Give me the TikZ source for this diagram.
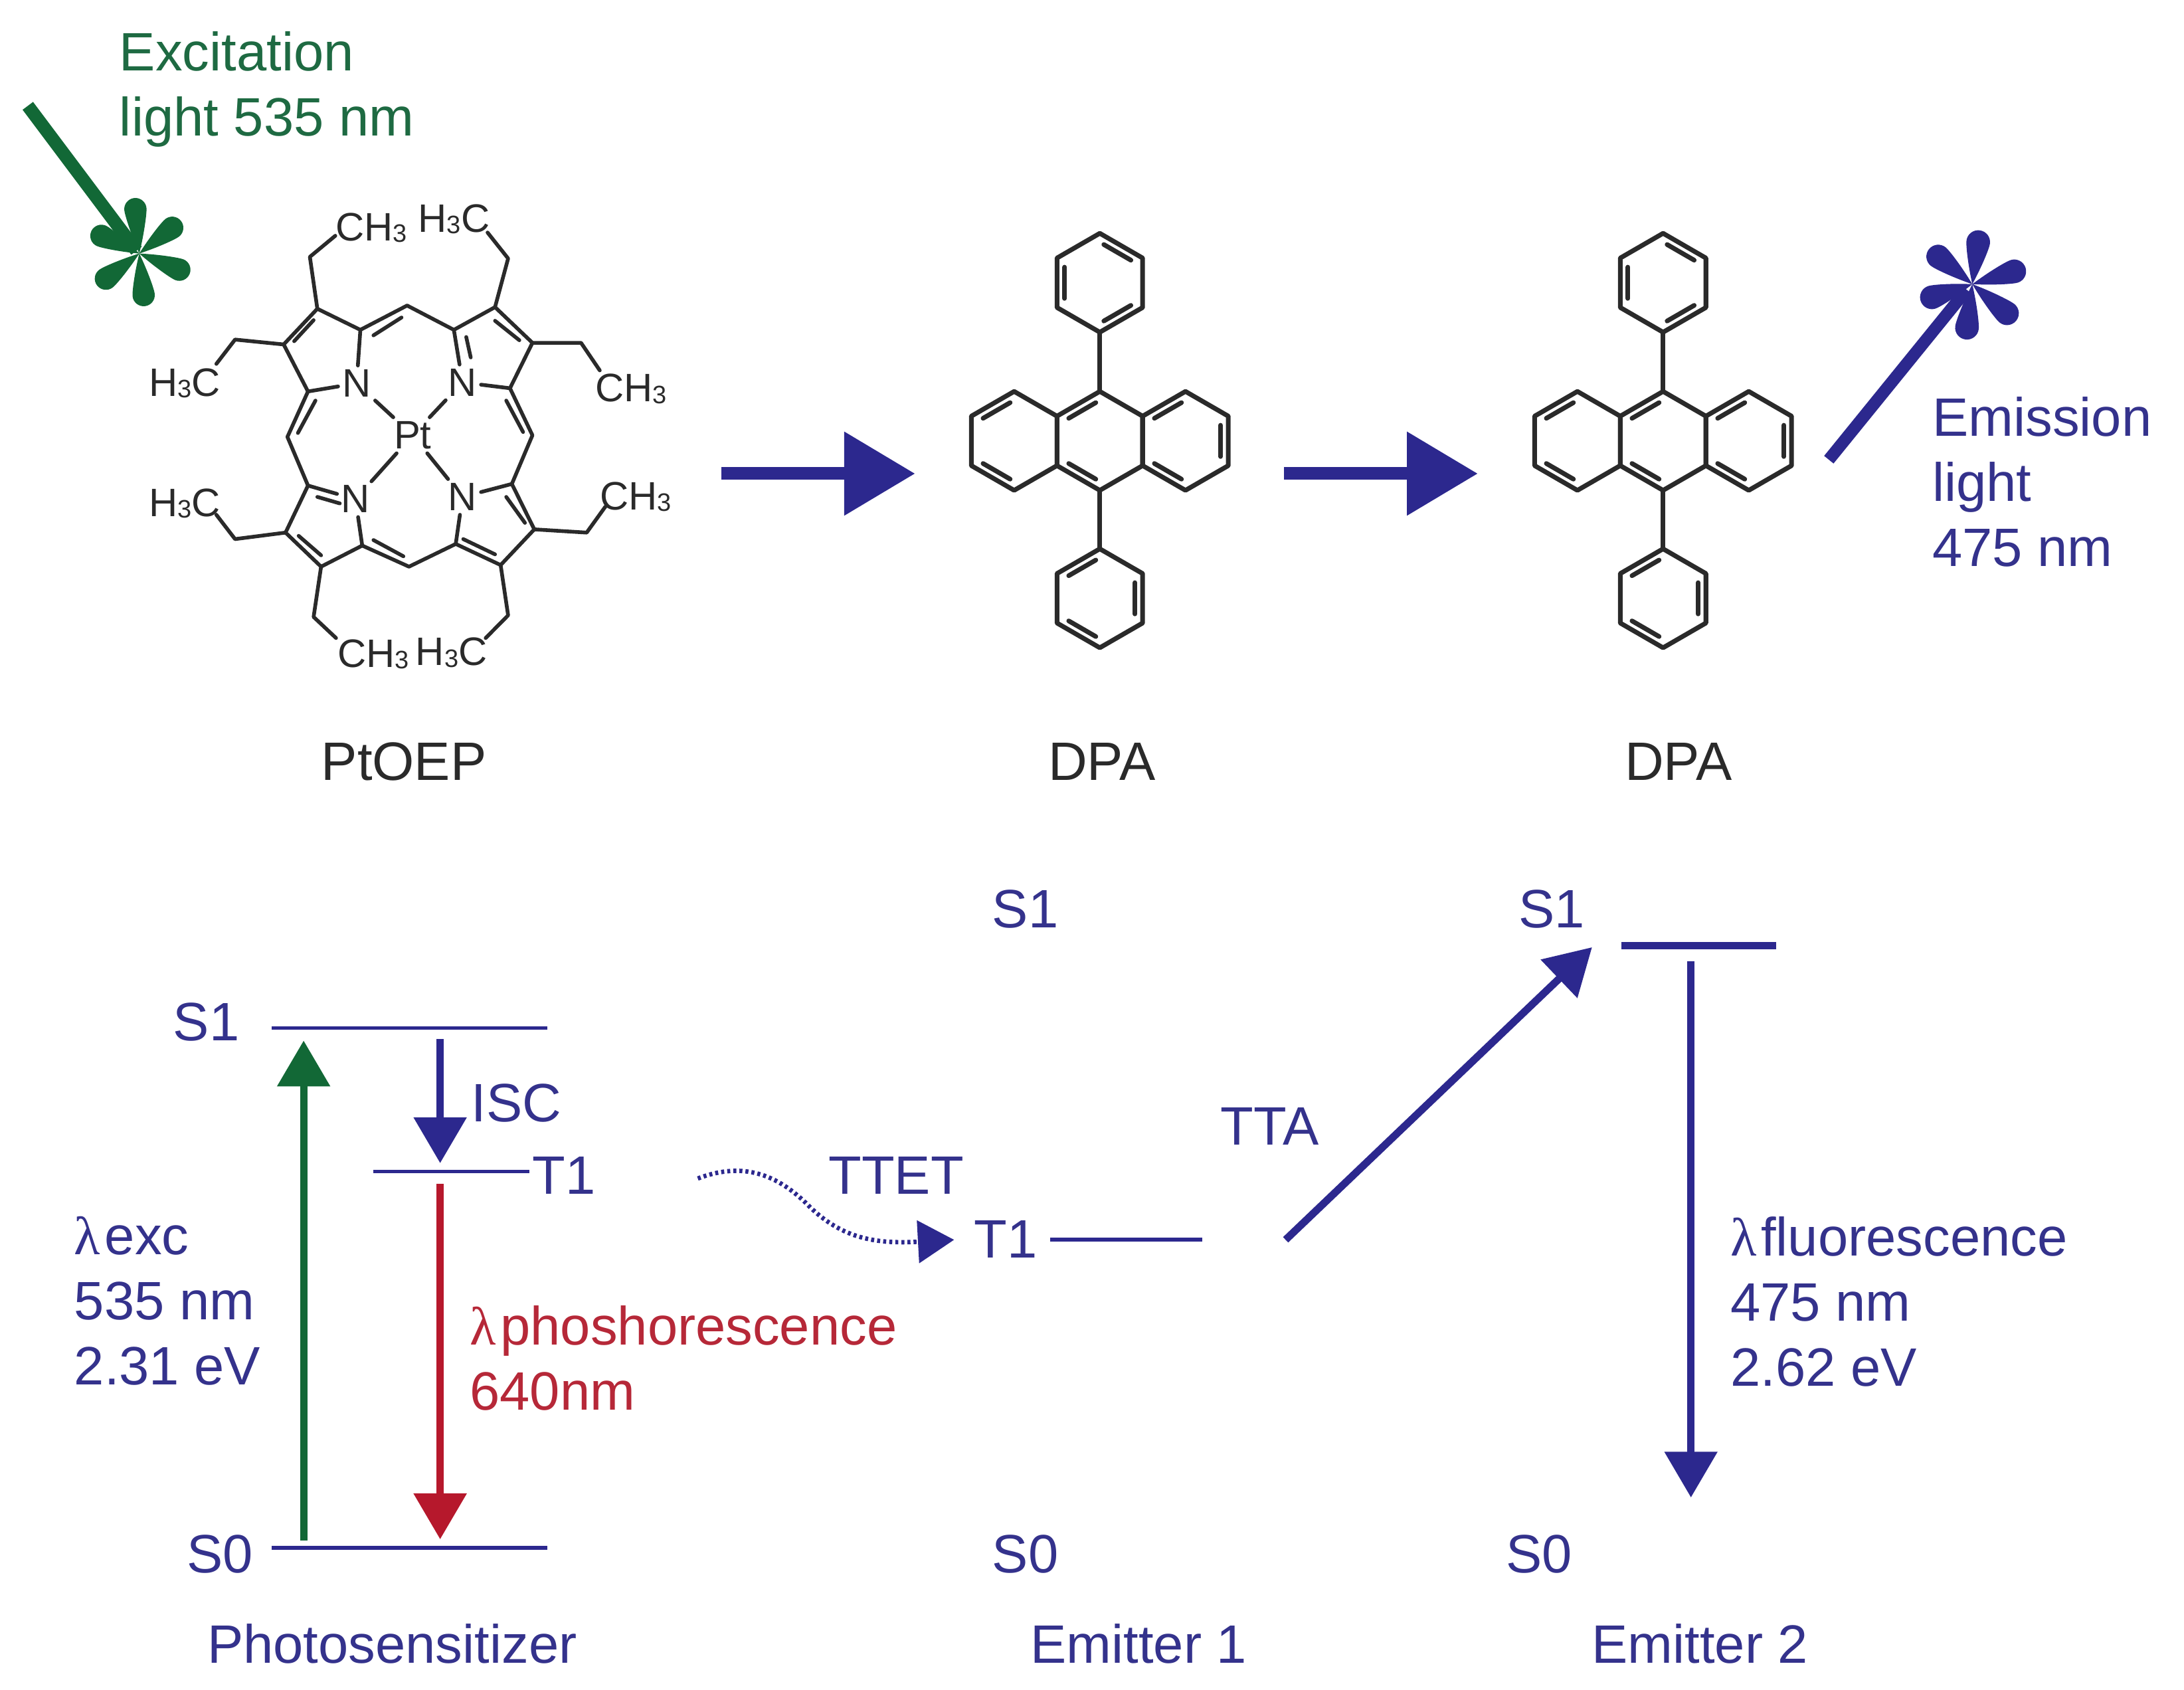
\documentclass[tikz,border=0pt]{standalone}
\usepackage{fontspec}
\setmainfont{Liberation Sans}
\newfontfamily\lamfont{Liberation Serif}
\usetikzlibrary{arrows.meta}
\definecolor{dblue}{RGB}{44,40,142}
\definecolor{tblue}{RGB}{52,50,140}
\definecolor{dgreen}{RGB}{18,104,54}
\definecolor{tgreen}{RGB}{30,106,66}
\definecolor{dred}{RGB}{182,24,44}
\definecolor{tred}{RGB}{182,40,56}
\definecolor{ink}{RGB}{42,42,42}
\newcommand{\lam}{{\lamfont λ}\kern0.08em}
\newcommand{\subthree}{\raisebox{-0.04em}{\fontsize{10.8}{10.8}\selectfont 3}}
% one petal of the star: tip length, bulb radius, direction
\newcommand{\petal}[3]{\fill[rotate=#3] (0,0) .. controls (0.35*#1,0.6*#2) and (#1-1.4*#2,#2) .. (#1-#2,#2) arc (90:-90:#2) .. controls (#1-1.4*#2,-#2) and (0.35*#1,-0.6*#2) .. (0,0) -- cycle;}
% hexagon: centre x, centre y, list of start angles (as seen) of edges with an inner line
\newcommand{\hexring}[3]{%
  \begin{scope}[shift={(#1,#2)}]
    \draw[dpabond] (30:35.5) -- (90:35.5) -- (150:35.5) -- (210:35.5) -- (270:35.5) -- (330:35.5) -- cycle;
    \foreach \a in {#3} {\draw[dpabond] (-\a-6:27.6) -- (-\a-54:27.6);}
  \end{scope}}
\newcommand{\dpamol}[1]{%
  \hexring{#1}{203}{30,150,270}
  \hexring{#1}{316.5}{90,210}
  \hexring{#1-61.5}{316.5}{90,210}
  \hexring{#1+61.5}{316.5}{90,330,210}
  \hexring{#1}{429.5}{90,330,210}
  \draw[dpabond] (#1,238.5) -- (#1,281);
  \draw[dpabond] (#1,352) -- (#1,394);}
\tikzset{
  bond/.style={draw=ink,line width=1.6pt,line join=round,line cap=round},
  dpabond/.style={draw=ink,line width=2pt,line join=round,line cap=round},
  atom/.style={text=ink,inner sep=1.6pt,font=\fontsize{17}{18}\selectfont},
  lab/.style={inner sep=0pt,anchor=base west,text=tblue,font=\fontsize{23.15}{27.9}\selectfont},
  mlab/.style={inner sep=0pt,anchor=north west,align=left,text=tblue,font=\fontsize{23.15}{27.9}\selectfont},
  name lab/.style={inner sep=0pt,anchor=base,text=ink,font=\fontsize{23.15}{27.9}\selectfont},
  level/.style={draw=dblue,line width=1.6pt},
  bigarrow/.style={draw=dblue,fill=dblue,line width=5.4pt,-{Triangle[length=30.4pt,width=34.6pt]}},
  midarrow/.style={line width=3.2pt,-{Triangle[length=19.6pt,width=22pt]}},
}
\begin{document}
\begin{tikzpicture}[x=0.02097cm,y=-0.02097cm]
\useasboundingbox (0,0) rectangle (1568,1213);
%% ---------- excitation
\node[mlab,text=tgreen] (exc) at (85.5,22.5) {Excitation\\light 535 nm};
\begin{scope}[shift={(100,182)},dgreen]
  \petal{40}{8}{95}\petal{38}{8}{38}\petal{39}{8}{-22}\petal{38}{8}{-84}\petal{38}{8}{-143}\petal{38}{8}{155}
\end{scope}
\coordinate (excs) at (20,76);
\coordinate (exce) at (98,180);
\draw[dgreen,line width=5.6pt] (excs) -- (exce);
%% ---------- emission
\node[mlab] (emi) at (1387,284.5) {Emission\\light\\475 nm};
\begin{scope}[shift={(1416,204)},dblue]
  \petal{39}{8.5}{82}\petal{40}{8.5}{17}\petal{41}{8.5}{-40}\petal{40}{8.5}{-97}\petal{39}{8.5}{198}\petal{40}{8.5}{141}
\end{scope}
\coordinate (emis) at (1313,330);
\coordinate (emie) at (1412,208);
\draw[dblue,line width=5.2pt] (emis) -- (emie);
%% ---------- PtOEP
\begin{scope}[shift={(85.5,132)},x=0.005633cm,y=-0.00488cm]
  \node[atom] (Pt) at (785,775) {Pt};
  \node[atom] (Na) at (635,615) {N};
  \node[atom] (Nb) at (918,612) {N};
  \node[atom] (Nc) at (632,972) {N};
  \node[atom] (Nd) at (918,965) {N};
  \coordinate (a1) at (645,450); \coordinate (a2) at (530,385); \coordinate (a3) at (440,495); \coordinate (a4) at (505,640);
  \coordinate (b1) at (895,450); \coordinate (b2) at (1005,380); \coordinate (b3) at (1105,490); \coordinate (b4) at (1045,630);
  \coordinate (c1) at (505,930); \coordinate (c2) at (445,1075); \coordinate (c3) at (540,1180); \coordinate (c4) at (650,1115);
  \coordinate (d1) at (1050,925); \coordinate (d2) at (1110,1065); \coordinate (d3) at (1020,1175); \coordinate (d4) at (900,1110);
  \coordinate (mt) at (770,375); \coordinate (ml) at (450,780); \coordinate (mr) at (1105,775); \coordinate (mb) at (775,1180);
  % rings and bridges
  \draw[bond] (Na) -- (a1) -- (a2) -- (a3) -- (a4) -- (Na);
  \draw[bond] (Nb) -- (b1) -- (b2) -- (b3) -- (b4) -- (Nb);
  \draw[bond] (Nc) -- (c1) -- (c2) -- (c3) -- (c4) -- (Nc);
  \draw[bond] (Nd) -- (d1) -- (d2) -- (d3) -- (d4) -- (Nd);
  \draw[bond] (a1) -- (mt) -- (b1);
  \draw[bond] (a4) -- (ml) -- (c1);
  \draw[bond] (b4) -- (mr) -- (d1);
  \draw[bond] (c4) -- (mb) -- (d4);
  % to the metal
  \draw[bond] (Na) -- (Pt); \draw[bond] (Nb) -- (Pt); \draw[bond] (Nc) -- (Pt); \draw[bond] (Nd) -- (Pt);
  % inner lines of double bonds
  \draw[bond] (520,420) -- (468,485);
  \draw[bond] (680,467) -- (755,412);
  \draw[bond] (928,472) -- (940,535);
  \draw[bond] (1005,422) -- (1070,482);
  \draw[bond] (1035,668) -- (1080,765);
  \draw[bond] (525,668) -- (478,768);
  \draw[bond] (530,965) -- (590,985);
  \draw[bond] (480,1085) -- (540,1145);
  \draw[bond] (680,1098) -- (760,1148);
  \draw[bond] (1035,965) -- (1085,1045);
  \draw[bond] (920,1095) -- (1005,1142);
  % ethyl groups
  \node[atom,anchor=west,inner sep=0pt] (e1) at (578,135) {CH\subthree};
  \node[atom,anchor=east,inner sep=0pt] (e2) at (992,108) {H\subthree C};
  \node[atom,anchor=east,inner sep=0pt] (e3) at (272,615) {H\subthree C};
  \node[atom,anchor=west,inner sep=0pt] (e4) at (1272,632) {CH\subthree};
  \node[atom,anchor=east,inner sep=0pt] (e5) at (272,985) {H\subthree C};
  \node[atom,anchor=west,inner sep=0pt] (e6) at (1285,965) {CH\subthree};
  \node[atom,anchor=west,inner sep=0pt] (e7) at (583,1450) {CH\subthree};
  \node[atom,anchor=east,inner sep=0pt] (e8) at (985,1445) {H\subthree C};
  \coordinate (t1) at (510,225); \coordinate (t2) at (1040,230); \coordinate (t3) at (310,480); \coordinate (t4) at (1235,490);
  \coordinate (t5) at (310,1095); \coordinate (t6) at (1250,1075); \coordinate (t7) at (520,1335); \coordinate (t8) at (1040,1330);
  \coordinate (u1) at (578,160); \coordinate (u2) at (985,150); \coordinate (u3) at (260,555); \coordinate (u4) at (1285,575);
  \coordinate (u5) at (260,1020); \coordinate (u6) at (1300,995); \coordinate (u7) at (580,1400); \coordinate (u8) at (980,1400);
  \draw[bond] (a2) -- (t1) -- (u1);
  \draw[bond] (b2) -- (t2) -- (u2);
  \draw[bond] (a3) -- (t3) -- (u3);
  \draw[bond] (b3) -- (t4) -- (u4);
  \draw[bond] (c2) -- (t5) -- (u5);
  \draw[bond] (d2) -- (t6) -- (u6);
  \draw[bond] (c3) -- (t7) -- (u7);
  \draw[bond] (d3) -- (t8) -- (u8);
\end{scope}
%% ---------- DPA
\dpamol{789.6}
\dpamol{1194}
\node[name lab] (nPt) at (290,560) {PtOEP};
\node[name lab] (nD1) at (791,560) {DPA};
\node[name lab] (nD2) at (1205,560) {DPA};
\coordinate (ar1s) at (518,340); \coordinate (ar1e) at (657,340);
\coordinate (ar2s) at (922,340); \coordinate (ar2e) at (1061,340);
\draw[bigarrow] (ar1s) -- (ar1e);
\draw[bigarrow] (ar2s) -- (ar2e);
%% ---------- energy diagram: photosensitizer
\node[lab] (ps1) at (124,747) {S1};
\node[lab] (ps0) at (134,1129) {S0};
\node[lab] (pt1) at (382,857) {T1};
\node[lab] (isc) at (338,805) {ISC};
\coordinate (l1a) at (195,738); \coordinate (l1b) at (393,738);
\coordinate (l0a) at (195,1111); \coordinate (l0b) at (393,1111);
\coordinate (ltb) at (268,841); \coordinate (lte) at (380,841);
\draw[level] (l1a) -- (l1b);
\draw[level] (l0a) -- (l0b);
\draw[level] (ltb) -- (lte);
\coordinate (gs) at (218,1106); \coordinate (ge) at (218,747);
\draw[midarrow,dgreen,fill=dgreen] (gs) -- (ge);
\coordinate (is) at (316,746); \coordinate (ie) at (316,835);
\draw[midarrow,dblue,fill=dblue] (is) -- (ie);
\coordinate (rs) at (316,850); \coordinate (re) at (316,1105);
\draw[midarrow,dred,fill=dred] (rs) -- (re);
\node[mlab] (lexc) at (53,873) {\lam exc\\535 nm\\2.31 eV};
\node[mlab,text=tred] (lph) at (337,937) {\lam phoshorescence\\640nm};
\node[lab] (ttet) at (594.5,857) {TTET};
\coordinate (ds) at (501,846); \coordinate (de) at (685,890);
\draw[dblue,line width=1.9pt,dash pattern=on 1.3pt off 1.3pt,fill=none,-{Triangle[length=15.5pt,width=18pt]}]
  (ds) .. controls (530,835) and (555,840) .. (580,865) .. controls (605,890) and (630,893) .. (de);
%% ---------- emitter 1
\node[lab] (e1s1) at (712,666) {S1};
\node[lab] (e1t1) at (699,903) {T1};
\node[lab] (e1s0) at (712,1129) {S0};
\coordinate (e1a) at (754,890); \coordinate (e1b) at (863,890);
\draw[level] (e1a) -- (e1b);
\node[lab] (tta) at (876,822) {TTA};
\coordinate (tas) at (923,890); \coordinate (tae) at (1143,680);
\draw[midarrow,dblue,fill=dblue] (tas) -- (tae);
%% ---------- emitter 2
\node[lab] (e2s1) at (1090,666) {S1};
\node[lab] (e2s0) at (1081,1129) {S0};
\coordinate (e2a) at (1164,679); \coordinate (e2b) at (1275,679);
\draw[dblue,line width=3.2pt] (e2a) -- (e2b);
\coordinate (fs) at (1214,690); \coordinate (fe) at (1214,1075);
\draw[midarrow,dblue,fill=dblue] (fs) -- (fe);
\node[mlab] (lfl) at (1242,873) {\lam fluorescence\\475 nm\\2.62 eV};
%% ---------- captions
\node[lab] (cap1) at (148.5,1194) {Photosensitizer};
\node[lab] (cap2) at (739.5,1194) {Emitter 1};
\node[lab] (cap3) at (1142.5,1194) {Emitter 2};
\end{tikzpicture}
\end{document}
